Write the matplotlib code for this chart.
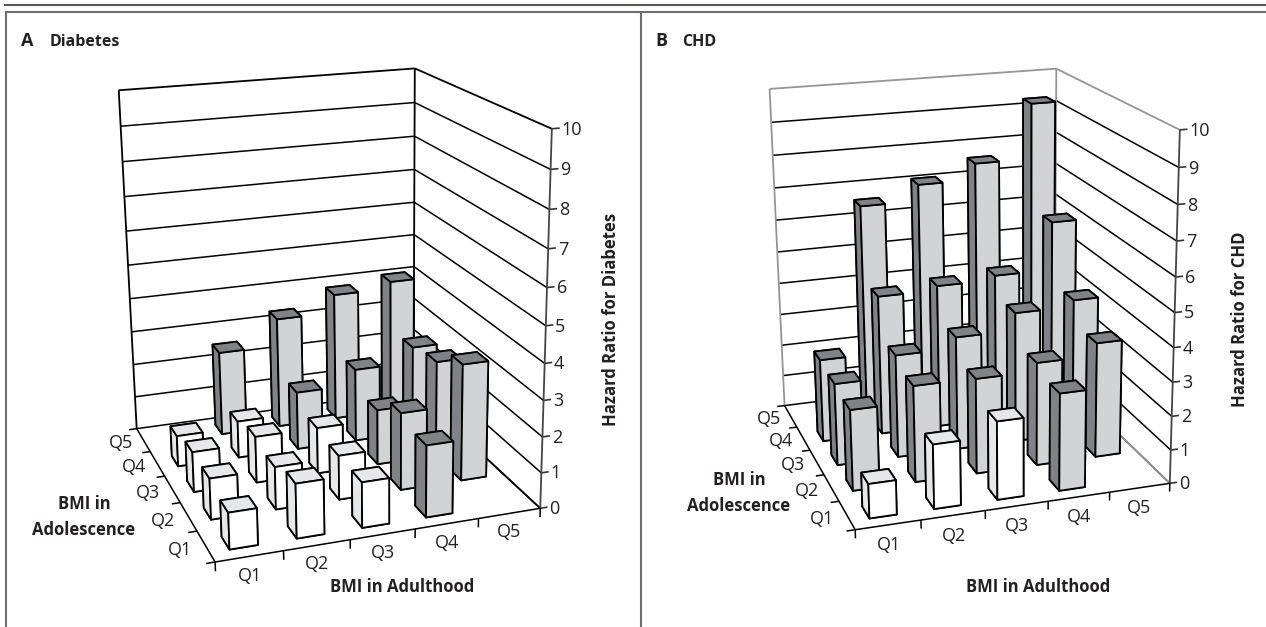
import numpy as np
from matplotlib import pyplot as plt
from matplotlib.lines import Line2D
from mpl_toolkits.mplot3d import proj3d

W, H = 1266, 627
plt.rcParams['font.family'] = ['Open Sans', 'DejaVu Sans']

quintiles = ['Q1', 'Q2', 'Q3', 'Q4', 'Q5']
ratio_ticks = [0, 1, 2, 3, 4, 5, 6, 7, 8, 9, 10]

# rows: adolescence Q1..Q5, columns: adulthood Q1..Q5
diabetes = [
    [1.0, 1.5, 1.26, 2.0, np.nan],
    [1.15, 1.2, 1.25, 2.2, 3.33],
    [1.15, 1.33, 1.33, 1.6, 2.78],
    [0.9, 1.08, 1.7, 2.15, 2.6],
    [np.nan, 2.5, 3.3, 3.83, 4.03],
]
chd = [
    [1.0, 1.88, 2.3, 2.87, np.nan],
    [2.4, 2.87, 2.85, 3.1, 3.47],
    [2.48, 3.12, 3.45, 3.98, 4.17],
    [2.55, 4.3, 4.43, 4.56, 6.03],
    [np.nan, 6.55, 7.05, 7.55, 9.25],
]
# True where the bar is shaded grey instead of white
diabetes_grey = [
    [False, False, False, True, False],
    [False, False, False, True, True],
    [False, False, False, True, True],
    [False, False, True, True, True],
    [False, True, True, True, True],
]
chd_grey = [
    [False, False, False, True, False],
    [True, True, True, True, True],
    [True, True, True, True, True],
    [True, True, True, True, True],
    [False, True, True, True, True],
]

TEXT = '#231f20'
TICK_SIZE = 13
LABEL_SIZE = 12


def draw_panel(data, grey, view, box, place, outer, label_z):
    """view = elev, azim, roll, focal length; place = scale and centre in pixels"""
    ax = fig.add_subplot(projection='3d', computed_zorder=False)
    ax.set_xlim(0, 5, view_margin=0)
    ax.set_ylim(0, 5, view_margin=0)
    ax.set_zlim(0, 10, view_margin=0)
    ax.view_init(view[0], view[1], view[2])
    ax.set_proj_type('persp', focal_length=view[3])
    ax.set_box_aspect(box)
    s, tx, ty = place
    lim = ax.viewLim
    size = s * lim.width
    ax.set_position([(tx + s * lim.x0) / W, 1 - (ty - s * lim.y1 + size) / H, size / W, size / H])
    # the frame is drawn by hand below, the built in panes don't look like this
    ax.set_xticks([])
    ax.set_yticks([])
    ax.set_zticks([])
    ax.set_axis_off()
    ax.patch.set_alpha(0)
    proj = ax.get_proj()

    def line(xs, ys, zs, color='black', lw=1.1):
        ax.plot(xs, ys, zs, color=color, lw=lw, zorder=1, solid_capstyle='butt')

    def tick_label(x, y, z, text, **kwargs):
        xp, yp, _ = proj3d.proj_transform(x, y, z, proj)
        ax.text2D(xp, yp, text, transform=ax.transData, fontsize=TICK_SIZE, color=TEXT, zorder=100, **kwargs)

    for z in ratio_ticks:
        col = outer if z == 10 else 'black'
        wall_lw = 1.3 if z == 10 else 1.1
        line([0, 5], [5, 5], [z, z], col, wall_lw)
        line([5, 5], [5, 0], [z, z], col, wall_lw)
        line([5, 5.12], [0, 0], [z, z], '#333333', 1.2)
        tick_label(5.15, 0, z, str(z), ha='left', va='center_baseline')
    line([0, 0], [5, 5], [0, 10], outer, 1.3)
    line([5, 5], [5, 5], [0, 10], outer, 1.3)
    line([5, 5], [5, 0], [0, 0], outer, 1.3)
    line([5, 5], [0, 0], [0, 10], '#444444', 1.3)
    line([0, 5], [0, 0], [0, 0])
    line([0, 0], [0, 5], [0, 0])
    for i in range(6):
        line([i, i], [0, 0], [0, -0.25])
        line([-0.13, 0], [i, i], [0, 0])
    for i, q in enumerate(quintiles):
        tick_label(i + 0.5, 0, label_z, q, ha='center', va='center')
        tick_label(-0.38, i + 0.5, 0, q, ha='center', va='center')

    width = 0.42
    order = 2
    # back row first so nearer bars paint over it
    for r in range(4, -1, -1):
        for q in range(5):
            v = data[r][q]
            if np.isnan(v):
                continue
            if grey[r][q]:
                front, side, lid = '#d1d3d4', '#808285', '#808285'
            else:
                front, side, lid = 'white', '#e6e7e8', '#e6e7e8'
            # faces: bottom, top, front, back, left, right
            colors = [front, lid, front, front, side, front]
            ax.bar3d(q + .5 - width / 2, r + .5 - width / 2, 0, width, width, v, color=colors,
                     edgecolor='black', linewidth=1.3, shade=False, zorder=order)
            order += 1


def px_text(x, y, s, **kwargs):
    fig.text(x / W, 1 - y / H, s, color=TEXT, **kwargs)


def px_line(xs, ys, color, lw):
    fig.add_artist(Line2D([x / W for x in xs], [1 - y / H for y in ys], color=color, lw=lw,
                          solid_capstyle='butt'))


fig = plt.figure(figsize=(W / 100, H / 100), dpi=100)

draw_panel(diabetes, diabetes_grey, (17.956, -108.31, 0.81, 0.514), (1, 1.024, 1.15),
           (3147.428, 323.719, 293.56), 'black', -0.53)
draw_panel(chd, chd_grey, (17.75, -107.211, 0.686, 0.562), (1, 1.021, 1.115),
           (2989.426, 963.956, 280.443), '#939598', -0.6)

# panel frame
px_line([4, W], [5, 5], '#58595b', 1.5)
px_line([5, W], [12, 12], '#6d6e71', 1.5)
px_line([5.7, 5.7], [11.5, H], '#6d6e71', 1.5)
px_line([640.8, 640.8], [11.5, H], '#6d6e71', 1.5)

# panel headers and axis titles
px_text(21, 41, 'A', fontsize=13, fontweight='bold', va='center')
px_text(50, 42, 'Diabetes', fontsize=11.5, fontweight='bold', va='center')
px_text(655, 41, 'B', fontsize=13, fontweight='bold', va='center')
px_text(682, 42, 'CHD', fontsize=11.5, fontweight='bold', va='center')
px_text(402, 587, 'BMI in Adulthood', fontsize=LABEL_SIZE, fontweight='bold', ha='center', va='center')
px_text(1038, 587, 'BMI in Adulthood', fontsize=LABEL_SIZE, fontweight='bold', ha='center', va='center')
px_text(84, 517, 'BMI in\nAdolescence', fontsize=LABEL_SIZE, fontweight='bold', ha='center', va='center',
        linespacing=1.55)
px_text(739, 493, 'BMI in\nAdolescence', fontsize=LABEL_SIZE, fontweight='bold', ha='center', va='center',
        linespacing=1.55)
px_text(611, 319, 'Hazard Ratio for Diabetes', fontsize=LABEL_SIZE, fontweight='bold', rotation=90,
        ha='center', va='center')
px_text(1240, 319, 'Hazard Ratio for CHD', fontsize=LABEL_SIZE, fontweight='bold', rotation=90,
        ha='center', va='center')

fig.savefig('out.png', dpi=100)
